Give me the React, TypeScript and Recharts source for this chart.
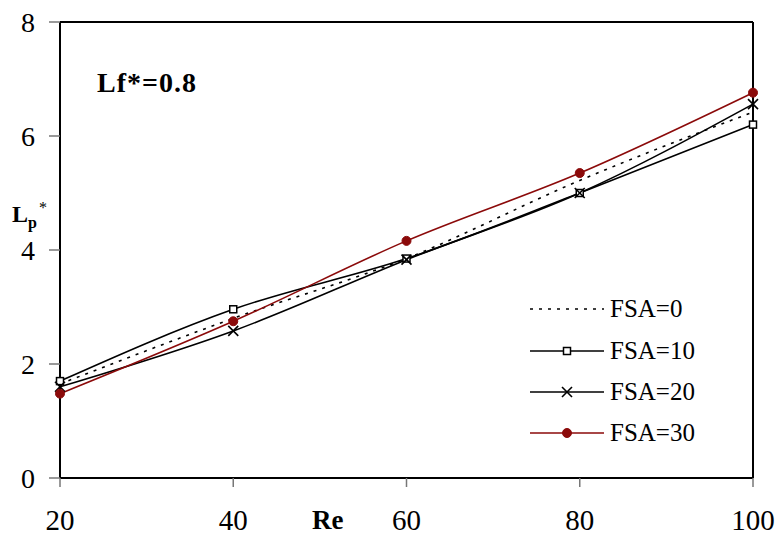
import { LineChart, Line, XAxis, YAxis, ReferenceLine } from "recharts";

const reValues = [20, 40, 60, 80, 100];
const fsa0 = [1.65, 2.8, 3.85, 5.22, 6.42];
const fsa10 = [1.7, 2.96, 3.85, 5.0, 6.2];
const fsa20 = [1.6, 2.58, 3.83, 5.0, 6.56];
const fsa30 = [1.48, 2.75, 4.16, 5.35, 6.76];
const xTicks = [20, 40, 60, 80, 100];
const yTicks = [0, 2, 4, 6, 8];
const legendNames = ["FSA=0", "FSA=10", "FSA=20", "FSA=30"];

const data = reValues.map((re, i) => ({
  re,
  fsa0: fsa0[i],
  fsa10: fsa10[i],
  fsa20: fsa20[i],
  fsa30: fsa30[i],
}));

const RED = "#8b0a0a";
const FONT = "Liberation Serif";

const SquareDot = (p: any) => (
  <rect key={`sq-${p.index}`} x={p.cx - 3.5} y={p.cy - 3.5} width={7} height={7}
    fill="#fff" stroke="#000" strokeWidth={1.5} />
);

const CrossDot = (p: any) => (
  <g key={`x-${p.index}`} stroke="#000" strokeWidth={1.6}>
    <line x1={p.cx - 5} y1={p.cy - 5} x2={p.cx + 5} y2={p.cy + 5} />
    <line x1={p.cx - 5} y1={p.cy + 5} x2={p.cx + 5} y2={p.cy - 5} />
  </g>
);

const CircleDot = (p: any) => (
  <circle key={`c-${p.index}`} cx={p.cx} cy={p.cy} r={4.5} fill={RED} stroke={RED} />
);

// legend drawn by hand so it sits inside the plot like the original
function LegendBox() {
  const rows = [309, 351, 392, 433];
  return (
    <svg width={779} height={536} style={{ position: "absolute", left: 0, top: 0, pointerEvents: "none" }}>
      {rows.map((y, i) => (
        <g key={i}>
          <line x1={530} x2={604} y1={y} y2={y}
            stroke={i === 3 ? RED : "#000"} strokeWidth={1.6}
            strokeDasharray={i === 0 ? "3 6" : undefined} />
          {i === 1 && <SquareDot cx={567} cy={y} index={0} />}
          {i === 2 && <CrossDot cx={567} cy={y} index={0} />}
          {i === 3 && <CircleDot cx={567} cy={y} index={0} />}
          <text x={610} y={y + 8} style={{ fontFamily: FONT, fontSize: 25 }} fill="#000">{legendNames[i]}</text>
        </g>
      ))}
    </svg>
  );
}

export default function App() {
  return (
    <div style={{ position: "absolute", left: 0, top: 0, width: 779, height: 536, background: "#fff", fontFamily: FONT }}>
      <LineChart width={779} height={536} data={data} margin={{ top: 22, right: 26, bottom: 0, left: 0 }}
        style={{ fontFamily: FONT }}>
        <XAxis dataKey="re" type="number" domain={[20, 100]} ticks={xTicks} height={58}
          axisLine={{ stroke: "#000", strokeWidth: 2 }} tickLine={{ stroke: "#777", strokeWidth: 1.5 }}
          tickSize={9} tickMargin={22}
          tick={{ fill: "#000", fontSize: 29, style: { fontFamily: FONT } }} />
        <YAxis type="number" domain={[0, 8]} ticks={yTicks} width={60}
          axisLine={{ stroke: "#000", strokeWidth: 2 }} tickLine={{ stroke: "#777", strokeWidth: 1.5 }}
          tickSize={11} tickMargin={14}
          tick={{ fill: "#000", fontSize: 28, style: { fontFamily: FONT } }} />
        <ReferenceLine y={8} stroke="#000" strokeWidth={2} />
        <ReferenceLine x={100} stroke="#000" strokeWidth={2} />
        <Line type="monotone" dataKey="fsa0" stroke="#000" strokeWidth={1.6} strokeDasharray="3 6"
          dot={false} activeDot={false} isAnimationActive={false} />
        <Line type="monotone" dataKey="fsa10" stroke="#000" strokeWidth={1.6}
          dot={SquareDot} activeDot={false} isAnimationActive={false} />
        <Line type="monotone" dataKey="fsa20" stroke="#000" strokeWidth={1.6}
          dot={CrossDot} activeDot={false} isAnimationActive={false} />
        <Line type="monotone" dataKey="fsa30" stroke={RED} strokeWidth={1.6}
          dot={CircleDot} activeDot={false} isAnimationActive={false} />
      </LineChart>
      <LegendBox />
      <div style={{ position: "absolute", left: 97, top: 68, fontSize: 28, lineHeight: "29px", fontWeight: "bold", letterSpacing: 1, whiteSpace: "nowrap" }}>
        Lf*=0.8
      </div>
      <div style={{ position: "absolute", left: 312, top: 507, fontSize: 27, lineHeight: "26px", fontWeight: "bold" }}>
        Re
      </div>
      <div style={{ position: "absolute", left: 12, top: 196, fontSize: 24, lineHeight: "24px", fontWeight: "bold", whiteSpace: "nowrap" }}>
        L<sub style={{ fontSize: 16 }}>p</sub><sup style={{ fontSize: 16, fontWeight: "normal", marginLeft: 2 }}>*</sup>
      </div>
    </div>
  );
}
